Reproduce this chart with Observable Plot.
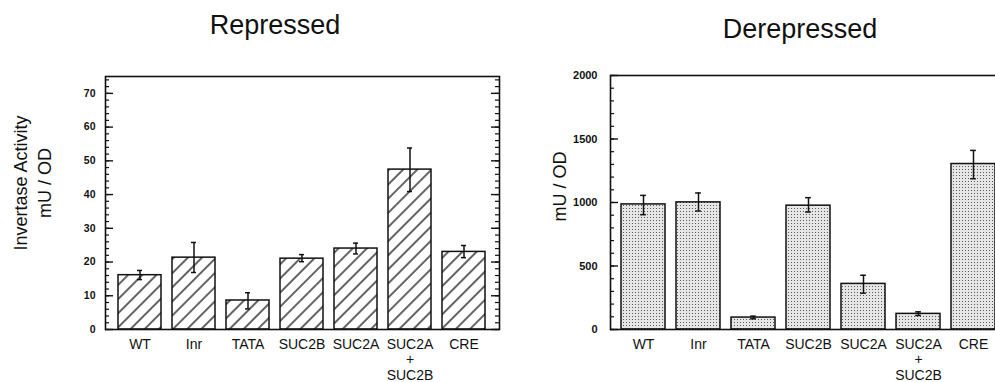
<!DOCTYPE html>
<html>
<head>
<meta charset="utf-8">
<script src="https://cdn.jsdelivr.net/npm/d3@7"></script>
<script src="https://cdn.jsdelivr.net/npm/@observablehq/plot@0.6"></script>
<style>
  html, body { margin: 0; padding: 0; background: #fff; overflow: hidden; }
  #root { position: relative; width: 995px; height: 382px; overflow: hidden; font-family: "Liberation Sans", Arial, Helvetica, sans-serif; }
  .title { position: absolute; font-size: 27px; color: #111; white-space: nowrap; transform: translateX(-50%); line-height: 1; }
  .panel { position: absolute; top: 0; }
  .panel svg { max-width: none !important; display: block; }
</style>
</head>
<body>
<div id="root">
  <div class="title" id="t1" style="left:275px; top:12px;">Repressed</div>
  <div class="title" id="t2" style="left:800px; top:16px;">Derepressed</div>
  <div class="panel" id="p1" style="left:0px; width:505px;"></div>
  <div class="panel" id="p2" style="left:505px; width:511px;"></div>
</div>
<script>
// ---- data ----
const categories = ["WT", "Inr", "TATA", "SUC2B", "SUC2A", "SUC2A+SUC2B", "CRE"];

const repressedMean = [16.1, 21.3, 8.6, 21.0, 24.0, 47.4, 23.0];
const repressedLow  = [14.8, 16.9, 6.1, 20.1, 22.4, 40.9, 21.3];
const repressedHigh = [17.5, 25.8, 10.9, 22.2, 25.6, 53.8, 24.9];

const derepressedMean = [985, 1001, 94, 975, 359, 123, 1303];
const derepressedLow  = [904, 933, 84, 925, 286, 110, 1187];
const derepressedHigh = [1056, 1075, 105, 1038, 427, 139, 1410];

const repressedTickLabels = [0, 10, 20, 30, 40, 50, 60, 70];
const repressedMinorTicks = [0,2,4,6,8,10,12,14,16,18,20,22,24,26,28,30,32,34,36,38,40,42,44,46,48,50,52,54,56,58,60,62,64,66,68,70,72,74];
const derepressedTickLabels = [0, 500, 1000, 1500, 2000];
const derepressedMinorTicks = [0,100,200,300,400,500,600,700,800,900,1000,1100,1200,1300,1400,1500,1600,1700,1800,1900,2000];

const repressedYLabel = "Invertase Activity\nmU / OD";
const derepressedYLabel = "mU / OD";

// ---- chart builder ----
function makeChart(cfg) {
  const rows = categories.map((c, i) => ({cat: c, v: cfg.mean[i], lo: cfg.low[i], hi: cfg.high[i]}));
  const plotW = cfg.width - cfg.marginLeft - cfg.marginRight;
  const step = plotW / categories.length;
  const bw = step * 0.8;
  const capW = 7;
  const marks = [
    Plot.barY(rows, {x: "cat", y: "v", fill: cfg.fill, stroke: "#111", strokeWidth: 1.5}),
    Plot.ruleX(rows, {x: "cat", y1: "lo", y2: "hi", stroke: "#111", strokeWidth: 1.5}),
    Plot.tickY(rows, {x: "cat", y: "lo", stroke: "#111", strokeWidth: 1.5, insetLeft: (bw - capW) / 2, insetRight: (bw - capW) / 2}),
    Plot.tickY(rows, {x: "cat", y: "hi", stroke: "#111", strokeWidth: 1.5, insetLeft: (bw - capW) / 2, insetRight: (bw - capW) / 2}),
    // inward minor ticks (left)
    Plot.ruleY(cfg.minors, {y: d => d, stroke: "#111", strokeWidth: 1.2, insetRight: plotW - 4}),
    // inward major ticks (left)
    Plot.ruleY(cfg.majors, {y: d => d, stroke: "#111", strokeWidth: 1.4, insetRight: plotW - 8}),
    Plot.axisY(cfg.majors, {tickSize: 0, tickPadding: cfg.tickPad, fontSize: cfg.yFont, fontWeight: "bold", fill: "#111", label: null, tickFormat: d => String(d)}),
    Plot.axisX({tickSize: 0, tickPadding: 8, fontSize: 14, fill: "#111", label: null, lineHeight: 1.12,
      tickFormat: d => d.replace("+", "\n+\n")}),
    Plot.text([cfg.ylabel], {text: d => d, frameAnchor: "left", rotate: -90, dx: cfg.ylabelDx, dy: cfg.ylabelDy,
      fontSize: 18, fill: "#111", lineHeight: 1.33, textAnchor: "middle", lineAnchor: "middle"}),
    Plot.frame({stroke: "#111", strokeWidth: 1.6})
  ];
  if (cfg.rightTicks) {
    marks.splice(6, 0,
      Plot.ruleY(cfg.minors, {y: d => d, stroke: "#111", strokeWidth: 1.2, insetLeft: plotW - 4}),
      Plot.ruleY(cfg.majors, {y: d => d, stroke: "#111", strokeWidth: 1.4, insetLeft: plotW - 8}));
  }
  const svg = Plot.plot({
    width: cfg.width,
    height: 382,
    marginLeft: cfg.marginLeft,
    marginRight: cfg.marginRight,
    marginTop: cfg.marginTop,
    marginBottom: cfg.marginBottom,
    style: {fontFamily: "'Liberation Sans', Arial, Helvetica, sans-serif", background: "transparent", overflow: "visible", maxWidth: "none"},
    x: {domain: categories, padding: 0.2, align: 0.5, axis: null},
    y: {domain: cfg.domain, axis: null},
    marks
  });
  svg.style.maxWidth = "none";
  const defs = d3.select(svg).insert("defs", ":first-child");
  cfg.pattern(defs);
  return svg;
}

function hatchPattern(defs) {
  const p = defs.append("pattern").attr("id", "hatch").attr("patternUnits", "userSpaceOnUse")
    .attr("width", 10).attr("height", 10).attr("patternTransform", "rotate(45)");
  p.append("rect").attr("width", 10).attr("height", 10).attr("fill", "#fff");
  p.append("line").attr("x1", 5).attr("y1", -1).attr("x2", 5).attr("y2", 11).attr("stroke", "#111").attr("stroke-width", 1.3);
}

function stipplePattern(defs) {
  const p = defs.append("pattern").attr("id", "stipple").attr("patternUnits", "userSpaceOnUse")
    .attr("width", 3).attr("height", 3);
  p.append("rect").attr("width", 3).attr("height", 3).attr("fill", "#e6e6e6");
  p.append("rect").attr("x", 1).attr("y", 1).attr("width", 1).attr("height", 1).attr("fill", "#5a5a5a");
}

document.getElementById("p1").appendChild(makeChart({
  width: 505, marginLeft: 105, marginRight: 6, marginTop: 76, marginBottom: 53,
  domain: [0, 75], majors: repressedTickLabels, minors: repressedMinorTicks,
  mean: repressedMean, low: repressedLow, high: repressedHigh,
  fill: "url(#hatch)", pattern: hatchPattern, tickPad: 10, yFont: 10.5,
  ylabel: repressedYLabel, ylabelDx: -74, ylabelDy: -20, rightTicks: true
}));

document.getElementById("p2").appendChild(makeChart({
  width: 511, marginLeft: 105, marginRight: 10, marginTop: 75, marginBottom: 53,
  domain: [0, 2000], majors: derepressedTickLabels, minors: derepressedMinorTicks,
  mean: derepressedMean, low: derepressedLow, high: derepressedHigh,
  fill: "url(#stipple)", pattern: stipplePattern, tickPad: 13, yFont: 11,
  ylabel: derepressedYLabel, ylabelDx: -52, ylabelDy: -16, rightTicks: false
}));
</script>
</body>
</html>
